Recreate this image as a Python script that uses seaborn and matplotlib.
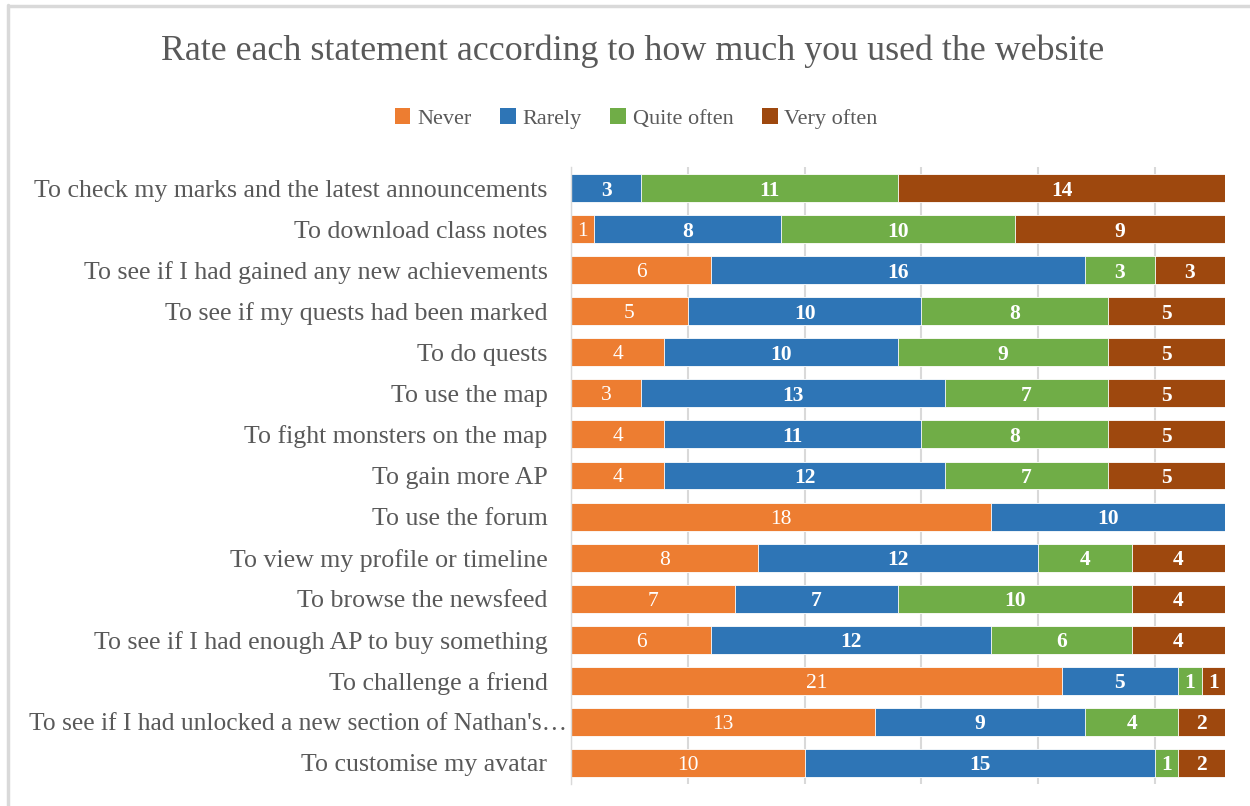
import matplotlib
matplotlib.use("Agg")
import matplotlib.pyplot as plt
import matplotlib.patches as mpatches
import matplotlib.transforms as mtransforms
import seaborn as sns
import pandas as pd
import numpy as np

statements = [
    "To check my marks and the latest announcements",
    "To download class notes",
    "To see if I had gained any new achievements",
    "To see if my quests had been marked",
    "To do quests",
    "To use the map",
    "To fight monsters on the map",
    "To gain more AP",
    "To use the forum",
    "To view my profile or timeline",
    "To browse the newsfeed",
    "To see if I had enough AP to buy something",
    "To challenge a friend",
    "To see if I had unlocked a new section of Nathan's\u2026",
    "To customise my avatar",
]
never = [0, 1, 6, 5, 4, 3, 4, 4, 18, 8, 7, 6, 21, 13, 10]
rarely = [3, 8, 16, 10, 10, 13, 11, 12, 10, 12, 7, 12, 5, 9, 15]
quite_often = [11, 10, 3, 8, 9, 7, 8, 7, 0, 4, 10, 6, 1, 4, 1]
very_often = [14, 9, 3, 5, 5, 5, 5, 5, 0, 4, 4, 4, 1, 2, 2]

series_names = ["Never", "Rarely", "Quite often", "Very often"]
series_colors = ["#ED7D31", "#2E75B6", "#70AD47", "#9E480E"]

sns.set_theme(style="white")
plt.rcParams["font.family"] = ["Liberation Serif", "DejaVu Serif"]

df = pd.DataFrame({
    "statement": statements,
    "Never": never,
    "Rarely": rarely,
    "Quite often": quite_often,
    "Very often": very_often,
})
cum = df[series_names].cumsum(axis=1)

fig = plt.figure(figsize=(12.5, 8.06), dpi=100)
ax = fig.add_axes([0.4568, 0.0279, 0.98 - 0.4568, 0.7922 - 0.0279])

# stacked bars: draw cumulative totals from the outermost layer inward
for name, color in reversed(list(zip(series_names, series_colors))):
    sns.barplot(x=cum[name], y=df["statement"], orient="h", color=color,
                width=0.68, edgecolor="white", linewidth=0.6,
                saturation=1, ax=ax, order=statements)

# segment value labels
for i in range(len(statements)):
    left = 0
    for name in series_names:
        v = df.loc[i, name]
        if v > 0:
            ax.text(left + v / 2, i, str(v), ha="center", va="center_baseline",
                    color="white", fontsize=15.5,
                    fontweight="normal" if name == "Never" else "bold")
        left += v

ax.set_xlim(0, 28)
ax.set_ylim(len(statements) - 0.5, -0.5)
ax.set_xticks([0, 5, 10, 15, 20, 25])
ax.set_xticklabels([])
ax.xaxis.grid(True, color="#d9d9d9", linewidth=1.5)
ax.set_axisbelow(True)
ax.set_xlabel("")
ax.set_ylabel("")
for s in ["top", "right", "bottom"]:
    ax.spines[s].set_visible(False)
ax.spines["left"].set_color("#d9d9d9")
ax.spines["left"].set_linewidth(1)

# category separator ticks on the y axis
ax.set_yticks(np.arange(len(statements)))
ax.set_yticklabels(statements, fontsize=18.6, color="#595959")
ax.set_yticks(np.arange(len(statements) + 1) - 0.5, minor=True)
ax.tick_params(axis="y", which="major", length=0, pad=17)
ax.tick_params(axis="y", which="minor", length=8, color="#d9d9d9", width=1)
ax.tick_params(axis="x", length=0)

# the truncated label runs right up to the bar start
long_label = ax.get_yticklabels()[13]
long_label.set_fontsize(18.4)
long_label.set_transform(long_label.get_transform() +
                         mtransforms.ScaledTranslation(0.2, 0, fig.dpi_scale_trans))

fig.text(0.506, 0.937, "Rate each statement according to how much you used the website",
         ha="center", va="center", fontsize=25.8, color="#595959")

handles = [mpatches.Patch(facecolor=c, edgecolor="none", label=n)
           for n, c in zip(series_names, series_colors)]
fig.legend(handles=handles, loc="center", bbox_to_anchor=(0.509, 0.853),
           ncol=4, frameon=False, fontsize=16, handlelength=0.7,
           handleheight=0.7, handletextpad=0.3, columnspacing=1.3,
           labelcolor="#595959")

# outer frame edges
fig.add_artist(plt.Line2D([0.007, 1.0], [0.9926, 0.9926], color="#d9d9d9",
                          linewidth=2.5, transform=fig.transFigure))
fig.add_artist(plt.Line2D([0.0065, 0.0065], [0.0, 0.994], color="#d9d9d9",
                          linewidth=2.5, transform=fig.transFigure))

fig.savefig("out.png", dpi=100, facecolor="white")
